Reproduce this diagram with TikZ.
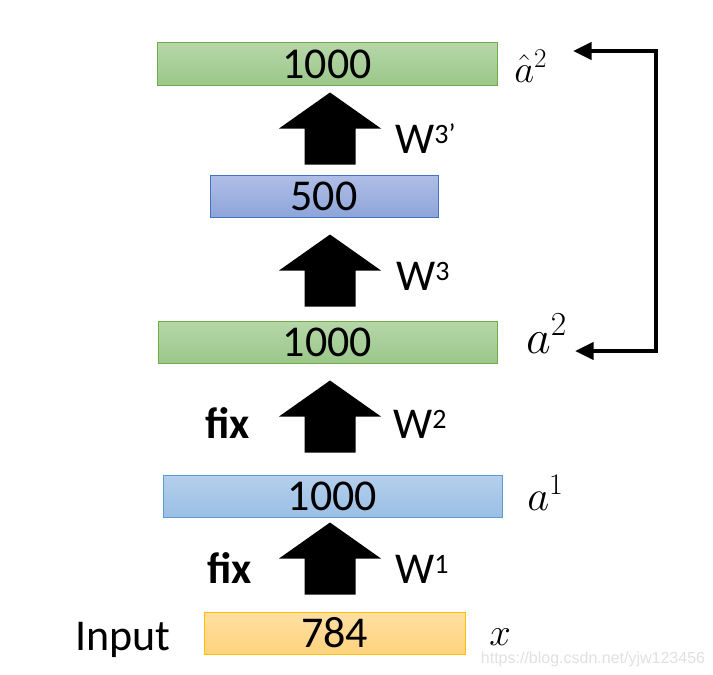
\RequirePackage{fix-cm}
\documentclass[tikz,border=0pt]{standalone}
\usepackage{fontspec}
\setmainfont{Carlito}
\newfontfamily\wmfont{Liberation Sans}
\usepackage{tikz}
\usetikzlibrary{arrows.meta}
\tikzset{>=latex}

\definecolor{grtop}{HTML}{B6D7A8}
\definecolor{grbot}{HTML}{9BC78A}
\definecolor{grline}{HTML}{70AD47}
\definecolor{bltop}{HTML}{AFBEE6}
\definecolor{blbot}{HTML}{8EA5DA}
\definecolor{blline}{HTML}{4472C4}
\definecolor{sktop}{HTML}{B4CFEC}
\definecolor{skbot}{HTML}{9BBFE5}
\definecolor{skline}{HTML}{5B9BD5}
\definecolor{ortop}{HTML}{FFE0A3}
\definecolor{orbot}{HTML}{FFD27E}
\definecolor{orline}{HTML}{FFC000}

\newcommand{\sups}[1]{\raisebox{7.5pt}{\fontsize{21}{25}\selectfont #1}}
% fat arrow whose tip sits #2 px below node #1
\newcommand{\blockup}[2]{\fill (axis |- #1.south) ++(0,#2) -- ++(51,36) -- ++(-25.5,0)
  -- ++(0,36) -- ++(-51,0) -- ++(0,-36) -- ++(-25.5,0) -- cycle;}

\tikzset{
  layer/.style={inner sep=0pt, minimum height=31.5pt, line width=0.75pt,
    font=\fontsize{33}{40}\selectfont},
  greenlayer/.style={layer, draw=grline, top color=grtop, bottom color=grbot},
  bluelayer/.style={layer, draw=blline, top color=bltop, bottom color=blbot},
  skylayer/.style={layer, draw=skline, top color=sktop, bottom color=skbot},
  inlayer/.style={layer, draw=orline, top color=ortop, bottom color=orbot},
  lbl/.style={inner sep=0pt, anchor=base west, font=\fontsize{33}{40}\selectfont},
  fb/.style={line width=3pt, line join=miter,
    {Triangle[length=14pt, width=12.75pt]}-{Triangle[length=14pt, width=12.75pt]}}
}

\begin{document}
\begin{tikzpicture}[x=0.75pt, y=-0.75pt]
    \useasboundingbox (0,0) rectangle (713,674);

    % layers
    \node[greenlayer, minimum width=255pt]    (ahat) at (327,64)    {1000};
    \node[bluelayer, minimum width=171pt]     (mid)  at (324,196)   {500};
    \node[greenlayer, minimum width=254.25pt] (atwo) at (327.5,342) {1000};
    \node[skylayer, minimum width=254.25pt]   (aone) at (332.5,496) {1000};
    \node[inlayer, minimum width=195.75pt]    (inp)  at (334.5,633) {784};

    % block arrows
    \coordinate (axis) at (330,0);
    \blockup{ahat}{7}
    \blockup{mid}{17}
    \blockup{atwo}{17}
    \blockup{aone}{5}

    % weights
    \node[lbl] (w3p) at (395,153) {W\sups{3’}};
    \node[lbl] (w3)  at (396,290) {W\sups{3}};
    \node[lbl] (w2)  at (393,438) {W\sups{2}};
    \node[lbl] (w1)  at (395,583) {W\sups{1}};
    \node[lbl] (fix2) at (205,438) {\textbf{fix}};
    \node[lbl] (fix1) at (207,583) {\textbf{fix}};
    \node[lbl] (inlbl) at (75,650) {Input};

    % activations
    \node[lbl, font=\fontsize{29}{34}\selectfont] (lhat) at (514,82)  {$\hat{a}^2$};
    \node[lbl, font=\fontsize{36}{42}\selectfont] (ltwo) at (526,353) {$a^2$};
    \node[lbl, font=\fontsize{32}{38}\selectfont] (lone) at (527,510) {$a^1$};
    \node[lbl, font=\fontsize{29}{34}\selectfont] (lx)   at (489,645) {$x$};

    % reconstruction loop
    \coordinate (fbtop) at (573,51);
    \coordinate (fbbot) at (575,351);
    \draw[fb] (fbtop) -- ++(83,0) |- (fbbot);

    \node[text=black!12, font=\wmfont\fontsize{12}{14}\selectfont] (wm) at (593,659) {https://blog.csdn.net/yjw123456};
\end{tikzpicture}
\end{document}
